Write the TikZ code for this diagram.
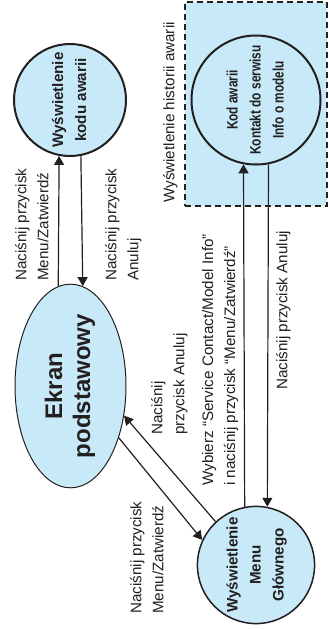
\documentclass[tikz,border=0pt]{standalone}
\usepackage{tikz}
\usepackage{fontspec}
\setmainfont{Liberation Sans}
\newfontfamily\narrowsans{Liberation Sans}[FakeStretch=0.78]
\usetikzlibrary{arrows.meta, shapes.geometric}
\definecolor{scrblue}{HTML}{C7E9F8}
\definecolor{scrdark}{HTML}{231F20}
\newcommand{\rottext}[1]{\rotatebox{90}{\begin{tabular}{@{}c@{}}#1\end{tabular}}}

\begin{document}
\begin{tikzpicture}[
  x=1pt, y=-1pt,
  every node/.style={font=\fontsize{15.2pt}{22pt}\selectfont, text=scrdark},
  statenode/.style={circle, draw=scrdark, fill=scrblue, line width=2pt, minimum size=112pt, inner sep=0pt, font=\fontsize{15.2pt}{23pt}\selectfont\bfseries},
  basenode/.style={ellipse, draw=scrdark, fill=scrblue, line width=1pt, minimum width=111pt, minimum height=194pt, inner sep=0pt, font=\fontsize{24pt}{28pt}\selectfont\bfseries},
  histbox/.style={rectangle, draw=scrdark, fill=scrblue, line width=1.3pt, dash pattern=on 6pt off 4pt, minimum width=142pt, minimum height=204pt, inner sep=0pt},
  lbl/.style={rotate=90, anchor=north west, align=left, inner sep=0pt},
  arr/.style={-{Triangle[width=10pt,length=9pt]}, line width=1.2pt, draw=scrdark},
]
\useasboundingbox (0,0) rectangle (329,629);

% Right: history box
\node[histbox] (box) at (256,104) {};
\node[lbl] (boxlbl) at (163,203) {Wyświetlenie historii awarii};

% States
\node[statenode] (kod) at (70,100) {\rottext{Wyświetlenie\\kodu awarii}};
\node[statenode, font=\fontsize{15.2pt}{23pt}\selectfont\narrowsans\bfseries] (hist) at (256,100) {\rottext{Kod awarii\\Kontakt do serwisu\\Info o modelu}};
\node[basenode] (ekran) at (70.5,386) {\rottext{Ekran\\podstawowy}};
\node[statenode, line width=1.5pt] (menu) at (256,565) {\rottext{Wyświetlenie\\Menu\\Głównego}};

% Connectors
\draw[arr] (ekran.97) -- (kod.259);
\draw[arr] (kod.281) -- (ekran.83);
\draw[arr] (ekran.313) -- (menu.155);
\draw[arr] (menu.133) -- (ekran.331);
\draw[arr] (menu.101) -- (hist.259);
\draw[arr] (hist.281) -- (menu.79);

% Labels
\node[lbl] (l1) at (15,281) {Naciśnij przycisk\\Menu/Zatwierdź};
\node[lbl] (l2) at (105,281) {Naciśnij przycisk\\Anuluj};
\node[lbl] (l3) at (151,435) {Naciśnij\\przycisk Anuluj};
\node[lbl] (l4) at (202,486) {Wybierz “Service Contact/Model Info”\\i naciśnij przycisk “Menu/Zatwierdź”};
\node[lbl] (l5) at (276,390) {Naciśnij przycisk Anuluj};
\node[lbl] (l6) at (130,614) {Naciśnij przycisk\\Menu/Zatwierdź};

\end{tikzpicture}
\end{document}
